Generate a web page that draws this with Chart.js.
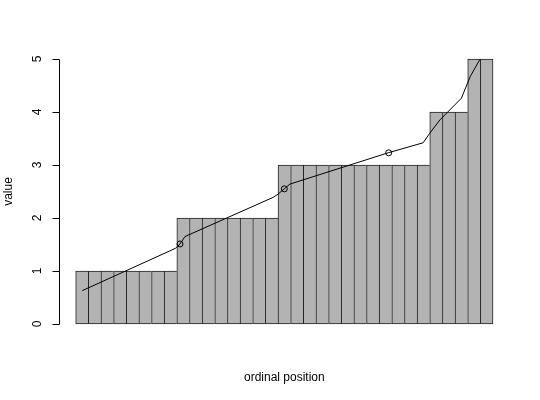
<!doctype html>
<html>
<head>
  <meta charset="utf-8" />
  <title>ordinal position</title>
  <style>
    body { margin: 0; background: #fff; }
    .wrap { width: 540px; height: 400px; }
  </style>
</head>
<body>
  <div class="wrap"><canvas id="chart" width="540" height="400"></canvas></div>

  <script src="https://cdn.jsdelivr.net/npm/chart.js@4.4.1/dist/chart.umd.min.js"></script>
  <script>
    // sorted values, one bar per ordinal position
    const barValues = [1,1,1,1,1,1,1,1, 2,2,2,2,2,2,2,2, 3,3,3,3,3,3,3,3,3,3,3,3, 4,4,4, 5,5];
    // smoothed line (x in bar units, y in value)
    const lineX = [0.52, 7.45, 7.9, 8.25, 8.64, 15.62, 16.0, 16.49, 16.94, 24.71, 27.48, 28.0, 28.8, 30.5, 31.2, 31.96];
    const lineY = [0.63, 1.38, 1.43, 1.51, 1.65, 2.39, 2.45, 2.55, 2.64, 3.23, 3.42, 3.6, 3.85, 4.26, 4.67, 4.99];
    // quartile markers
    const pointX = [8.25, 16.5, 24.75];
    const pointY = [1.51, 2.55, 3.23];
    const yTicks = [0, 1, 2, 3, 4, 5];
    const xTitle = 'ordinal position';
    const yTitle = 'value';

    const font = '12px "Liberation Sans", Arial, sans-serif';

    // R-like left axis + titles, drawn through the chart's own scales
    const rAxes = {
      id: 'rAxes',
      afterDraw(chart) {
        const ctx = chart.ctx, y = chart.scales.y, area = chart.chartArea;
        const ax = Math.round(area.left) + 0.5;
        ctx.save();
        ctx.strokeStyle = '#000';
        ctx.lineWidth = 1;
        ctx.beginPath();
        ctx.moveTo(ax, Math.round(y.getPixelForValue(yTicks[0])) + 0.5);
        ctx.lineTo(ax, Math.round(y.getPixelForValue(yTicks[yTicks.length - 1])) + 0.5);
        for (const t of yTicks) {
          const py = Math.round(y.getPixelForValue(t)) + 0.5;
          ctx.moveTo(ax, py);
          ctx.lineTo(ax - 7, py);
        }
        ctx.stroke();

        ctx.fillStyle = '#000';
        ctx.font = font;
        ctx.textAlign = 'center';
        ctx.textBaseline = 'middle';
        for (const t of yTicks) {
          const py = y.getPixelForValue(t);
          ctx.save();
          ctx.translate(37.5, py);
          ctx.rotate(-Math.PI / 2);
          ctx.fillText(String(t), 0, 0);
          ctx.restore();
        }
        // titles
        ctx.fillText(xTitle, (area.left + area.right) / 2, 378);
        ctx.save();
        ctx.translate(9, (area.top + area.bottom) / 2);
        ctx.rotate(-Math.PI / 2);
        ctx.fillText(yTitle, 0, 0);
        ctx.restore();
        ctx.restore();
      }
    };

    const n = barValues.length;
    new Chart(document.getElementById('chart').getContext('2d'), {
      data: {
        datasets: [
          {
            type: 'bar',
            order: 3,
            data: barValues.map((v, i) => ({ x: i + 0.5, y: v })),
            backgroundColor: '#b3b3b3',
            borderColor: '#222',
            borderWidth: (c) => c.dataIndex === n - 1
              ? 1 : { top: 1, bottom: 1, left: 1, right: 0 },
            borderSkipped: false,
            barPercentage: 1,
            categoryPercentage: 1
          },
          {
            type: 'scatter',
            order: 1,
            showLine: true,
            data: lineX.map((x, i) => ({ x, y: lineY[i] })),
            borderColor: '#000',
            borderWidth: 1,
            pointRadius: 0,
            tension: 0
          },
          {
            type: 'scatter',
            order: 0,
            data: pointX.map((x, i) => ({ x, y: pointY[i] })),
            borderColor: '#000',
            backgroundColor: 'rgba(0,0,0,0)',
            borderWidth: 1,
            pointRadius: 3
          }
        ]
      },
      options: {
        responsive: false,
        animation: false,
        layout: { padding: { left: 59, right: 30.3, top: 48.4, bottom: 65.4 } },
        plugins: { legend: { display: false }, tooltip: { enabled: false } },
        scales: {
          x: { type: 'linear', display: false, offset: false, grace: 0, min: -n * 0.04, max: n * 1.04 },
          y: { type: 'linear', display: false, grace: 0, min: -0.2, max: 5.2 }
        }
      },
      plugins: [rAxes]
    });
  </script>
</body>
</html>
